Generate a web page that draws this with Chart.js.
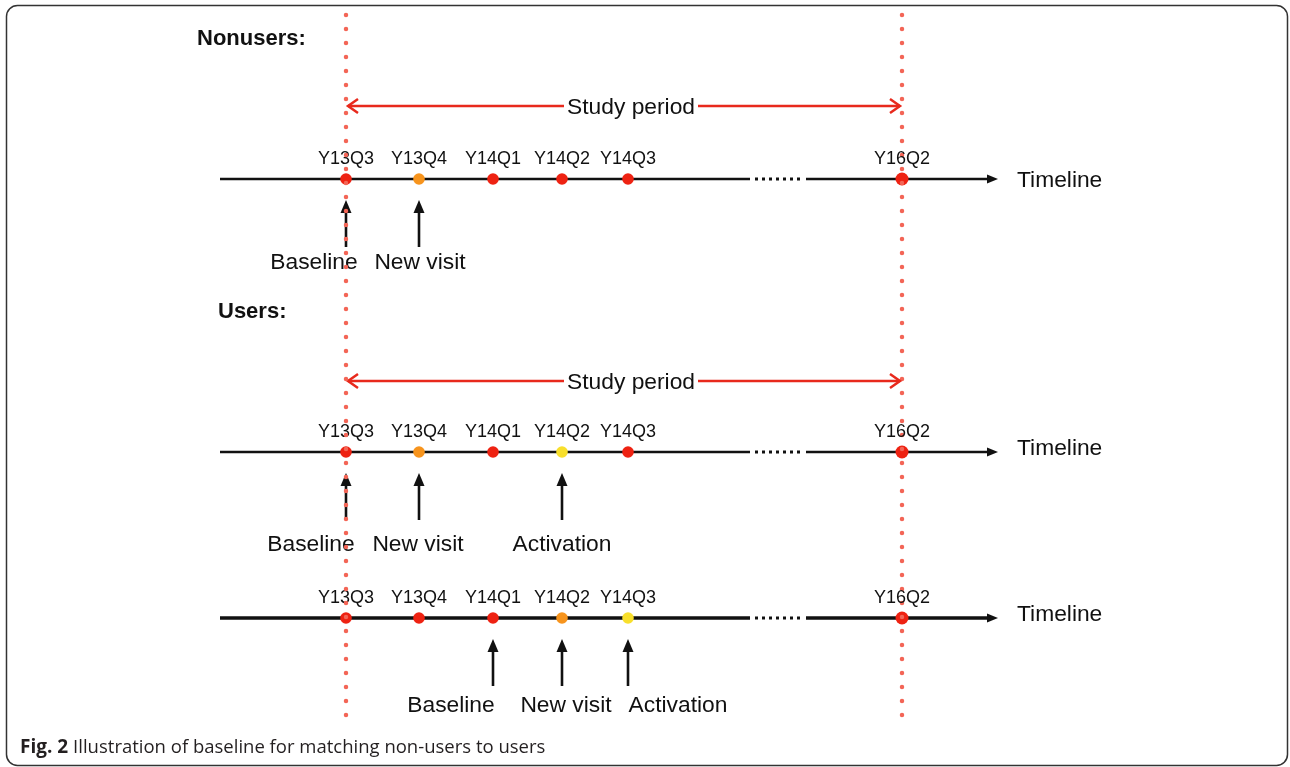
<!DOCTYPE html>
<html>
<head>
<meta charset="utf-8">
<script src="https://cdn.jsdelivr.net/npm/chart.js@4.4.1/dist/chart.umd.min.js"></script>
<style>
  html, body { margin: 0; padding: 0; background: #fff; }
  #fig { display: block; }
</style>
</head>
<body>
<canvas id="fig" width="1290" height="767"></canvas>
<script>
// quarters on the timeline and where they sit on the x axis
const QUARTERS = ['Y13Q3', 'Y13Q4', 'Y14Q1', 'Y14Q2', 'Y14Q3', 'Y16Q2'];
const QUARTER_X = [346, 419, 493, 562, 628, 902];

// status of each quarter per timeline row: v = visit, n = new visit, a = activation
const ROW_STATUS = [
  ['v', 'n', 'v', 'v', 'v', 'v'],
  ['v', 'n', 'v', 'a', 'v', 'v'],
  ['v', 'v', 'v', 'n', 'a', 'v']
];

// arrows below each row: label + quarter index
const EVENT_LABELS = [
  ['Baseline', 'New visit'],
  ['Baseline', 'New visit', 'Activation'],
  ['Baseline', 'New visit', 'Activation']
];
const EVENT_QUARTER = [[0, 1], [0, 1, 3], [2, 3, 4]];

const GROUPS = ['Nonusers:', 'Users:'];
const STUDY_START = 0;  // quarter index
const STUDY_END = 5;
const CAPTION_BOLD = 'Fig. 2';
const CAPTION = 'Illustration of baseline for matching non-users to users';

// layout (pixels in axis units)
const ROW_Y = [179, 452, 618];
const ROW_WIDTH = [2.5, 2.5, 3.5];
const EVENT_LABEL_X = [[314, 420], [311, 418, 562], [451, 566, 678]];
const EVENT_LABEL_DY = [82, 91, 86];
const GROUP_POS = [{ x: 197, y: 37 }, { x: 218, y: 310 }];
const STUDY_Y = [106, 381];
const TL = { start: 220, gapA: 750, gapB: 806, end: 998, gapDotA: 755, gapDotB: 803 };
const TEXT_DY = 2; // canvas 'middle' sits a little high for caps

const COLORS = {
  v: '#ee2212',
  n: '#f7941d',
  a: '#f8df2c',
  dots: '#f36556',
  study: '#e8291c',
  ink: '#111111',
  frame: '#333333'
};
const FONT = "'Liberation Sans', Arial, sans-serif";

function line(pts, color, width, extra = {}) {
  return Object.assign({
    data: pts, showLine: true, borderColor: color, borderWidth: width,
    pointRadius: 0, fill: false, tension: 0
  }, extra);
}

const datasets = [];

// dotted study limits (index 0 -> drawn on top)
[STUDY_START, STUDY_END].forEach(q => {
  datasets.push(line([{ x: QUARTER_X[q], y: 15 }, { x: QUARTER_X[q], y: 717 }], COLORS.dots, 4.5,
    { borderDash: [0, 14], borderCapStyle: 'round' }));
});

// timeline points
ROW_Y.forEach((y, r) => {
  datasets.push({
    data: QUARTER_X.map(x => ({ x, y })),
    showLine: false,
    pointRadius: QUARTER_X.map((x, i) => i === QUARTER_X.length - 1 ? 6.5 : 5.8),
    pointBorderWidth: 0,
    pointBackgroundColor: ROW_STATUS[r].map(s => COLORS[s])
  });
});

// timeline shafts + gap dots
ROW_Y.forEach((y, r) => {
  datasets.push(line([{ x: TL.start, y }, { x: TL.gapA, y }], COLORS.ink, ROW_WIDTH[r]));
  datasets.push(line([{ x: TL.gapB, y }, { x: TL.end - 8, y }], COLORS.ink, ROW_WIDTH[r]));
  datasets.push(line([{ x: TL.gapDotA, y }, { x: TL.gapDotB, y }], COLORS.ink, 3, { borderDash: [3, 4] }));
});

// study period lines
STUDY_Y.forEach(y => {
  datasets.push(line([{ x: QUARTER_X[STUDY_START] + 2, y }, { x: QUARTER_X[STUDY_END] - 2, y }], COLORS.study, 2.5));
});

// event arrow shafts
ROW_Y.forEach((y, r) => {
  EVENT_QUARTER[r].forEach(q => {
    datasets.push(line([{ x: QUARTER_X[q], y: y + 68 }, { x: QUARTER_X[q], y: y + 30 }], COLORS.ink, 2.6));
  });
});

function head(ctx, x, y, dx, dy, len, half) {
  const px = -dy, py = dx;
  ctx.beginPath();
  ctx.moveTo(x, y);
  ctx.lineTo(x - dx * len + px * half, y - dy * len + py * half);
  ctx.lineTo(x - dx * len - px * half, y - dy * len - py * half);
  ctx.closePath();
  ctx.fill();
}

function chevron(ctx, x, y, dir) {
  ctx.beginPath();
  ctx.moveTo(x - dir * 10, y - 7);
  ctx.lineTo(x, y);
  ctx.lineTo(x - dir * 10, y + 7);
  ctx.stroke();
}

const annotate = {
  id: 'annotate',
  beforeDraw(chart) {
    const ctx = chart.ctx;
    ctx.save();
    ctx.fillStyle = '#fff';
    ctx.fillRect(0, 0, chart.width, chart.height);
    ctx.restore();
  },
  beforeDatasetDraw(chart, args) {
    if (args.index !== 0) return;
    const { ctx, scales: { x: sx, y: sy } } = chart;
    const X = v => sx.getPixelForValue(v);
    const Y = v => sy.getPixelForValue(v);
    const T = v => Y(v) + TEXT_DY;
    ctx.save();
    ctx.textBaseline = 'middle';
    ctx.fillStyle = COLORS.ink;

    // group headings
    ctx.font = `bold 22px ${FONT}`;
    ctx.textAlign = 'left';
    GROUPS.forEach((g, i) => ctx.fillText(g, X(GROUP_POS[i].x), T(GROUP_POS[i].y)));

    // study period
    STUDY_Y.forEach(y => {
      const x0 = X(QUARTER_X[STUDY_START]) + 2, x1 = X(QUARTER_X[STUDY_END]) - 2;
      ctx.strokeStyle = COLORS.study;
      ctx.lineWidth = 2.5;
      chevron(ctx, x0, Y(y), -1);
      chevron(ctx, x1, Y(y), 1);
      ctx.font = `22.8px ${FONT}`;
      const label = 'Study period';
      const w = ctx.measureText(label).width;
      const cx = (x0 + x1) / 2 + 7;
      ctx.fillStyle = '#fff';
      ctx.fillRect(cx - w / 2 - 3, Y(y) - 12, w + 6, 24);
      ctx.fillStyle = COLORS.ink;
      ctx.textAlign = 'center';
      ctx.fillText(label, cx, T(y));
    });

    ROW_Y.forEach((y, r) => {
      // quarter labels
      ctx.font = `18px ${FONT}`;
      ctx.textAlign = 'center';
      QUARTERS.forEach((q, i) => ctx.fillText(q, X(QUARTER_X[i]), T(y - 22)));
      // timeline arrow + label
      head(ctx, X(TL.end), Y(y), 1, 0, 11, 4.5);
      ctx.font = `22.8px ${FONT}`;
      ctx.textAlign = 'left';
      ctx.fillText('Timeline', X(1017), T(r === 0 ? y : y - 5));
      // event arrows + labels
      EVENT_QUARTER[r].forEach((q, k) => {
        head(ctx, X(QUARTER_X[q]), Y(y + 21), 0, -1, 13, 5.5);
        ctx.textAlign = 'center';
        ctx.fillText(EVENT_LABELS[r][k], X(EVENT_LABEL_X[r][k]), T(y + EVENT_LABEL_DY[r]));
      });
    });
    ctx.restore();
  },
  afterDraw(chart) {
    const ctx = chart.ctx;
    ctx.save();
    // frame
    ctx.strokeStyle = COLORS.frame;
    ctx.lineWidth = 1.5;
    ctx.beginPath();
    ctx.roundRect(6.5, 5.5, 1281, 760, 11);
    ctx.stroke();
    // caption
    ctx.textBaseline = 'alphabetic';
    ctx.textAlign = 'left';
    ctx.fillStyle = '#231f20';
    ctx.font = "bold 19px 'Open Sans', sans-serif";
    ctx.fillText(CAPTION_BOLD, 20, 753);
    const w = ctx.measureText(CAPTION_BOLD + ' ').width;
    ctx.font = "18.5px 'Open Sans', sans-serif";
    ctx.fillText(CAPTION, 20 + w, 753);
    ctx.restore();
  }
};

new Chart(document.getElementById('fig'), {
  type: 'scatter',
  data: { datasets },
  options: {
    responsive: false,
    animation: false,
    events: [],
    layout: { padding: 0, autoPadding: false },
    plugins: { legend: { display: false }, tooltip: { enabled: false } },
    scales: {
      x: { type: 'linear', display: false, min: 0, max: 1290 },
      y: { type: 'linear', display: false, min: 0, max: 767, reverse: true }
    }
  },
  plugins: [annotate]
});
</script>
</body>
</html>
